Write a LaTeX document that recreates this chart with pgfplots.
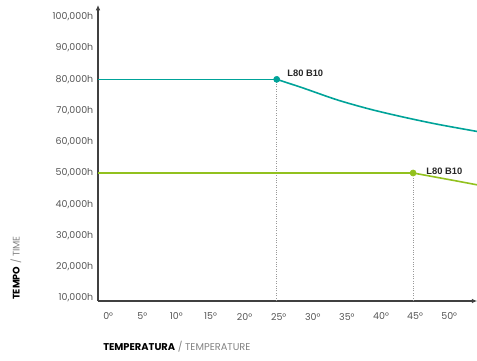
\documentclass[border=0pt]{standalone}
\usepackage{fontspec}
\setmainfont{Poppins}
\newfontfamily\lblfont{Liberation Sans}
\usepackage{pgfplots}
\pgfplotsset{compat=1.18}
\usetikzlibrary{arrows.meta}
\definecolor{tealc}{RGB}{0,163,153}
\definecolor{greenc}{RGB}{146,193,30}
\definecolor{tickgray}{RGB}{85,85,85}
\definecolor{ltgray}{RGB}{130,130,130}
\begin{document}
\begin{tikzpicture}[x=0.75pt,y=0.75pt]
\useasboundingbox (0,0) rectangle (477,360);
\begin{axis}[
    overlay,
    at={(98*0.75pt,59*0.75pt)}, anchor=south west,
    scale only axis,
    width=284.4pt, height=222pt,
    xmin=-1.2, xmax=54.4,
    ymin=9000, ymax=103810,
    axis lines=left,
    axis line style={draw=black!75, line width=1.2pt, -{Latex[length=4pt,width=3.5pt]}},
    major tick length=0pt,
    xtick={0,5,...,50},
    xticklabels={0°,5°,10°,15°,20°,25°,30°,35°,40°,45°,50°},
    ytick={10000,20000,...,100000},
    yticklabels={{10,000h},{20,000h},{30,000h},{40,000h},{50,000h},{60,000h},{70,000h},{80,000h},{90,000h},{100,000h}},
    tick label style={font=\fontsize{7.1}{8}\selectfont, text=tickgray},
    xticklabel style={yshift=-5.5pt, xshift=1.5pt},
    yticklabel style={xshift=0pt},
    clip=false,
]
% dotted guides
\addplot[black!40, densely dotted, line width=0.8pt] coordinates {(25,9000) (25,80000)};
\addplot[black!40, densely dotted, line width=0.8pt] coordinates {(45,9000) (45,50000)};
% L80 B10 curves
\addplot[tealc, line width=1.2pt] coordinates {(-1.2,80000) (25,80000)};
\addplot[tealc, line width=1.2pt, smooth] coordinates {(25,80000) (28.9,77200) (33.9,73400) (38.75,70400) (43.6,67900) (48.6,65600) (54.4,63300)};
\addplot[greenc, line width=1.2pt] coordinates {(-1.2,50000) (45,50000)};
\addplot[greenc, line width=1.2pt, smooth] coordinates {(45,50000) (50.5,47800) (54.4,46200)};
% points
\addplot[only marks, mark=*, mark size=2.3pt, tealc] coordinates {(25,80000)}
    node[anchor=west, xshift=4.5pt, yshift=4.5pt, text=black!85, font=\lblfont\bfseries\fontsize{7}{8}\selectfont] {L80 B10};
\addplot[only marks, mark=*, mark size=2.3pt, greenc] coordinates {(45,50000)}
    node[anchor=west, xshift=6.5pt, yshift=1.2pt, text=black!85, font=\lblfont\bfseries\fontsize{7}{8}\selectfont] {L80 B10};
\end{axis}
\node[rotate=90, anchor=west, inner sep=0pt, font=\fontsize{7.2}{8}\selectfont] at (16,60) {\textbf{TEMPO} {\color{ltgray}/ TIME}};
\node[anchor=west, inner sep=0pt, font=\fontsize{7.4}{8}\selectfont] at (103,13.5) {\textbf{TEMPERATURA} {\color{ltgray}/ TEMPERATURE}};
\end{tikzpicture}
\end{document}
